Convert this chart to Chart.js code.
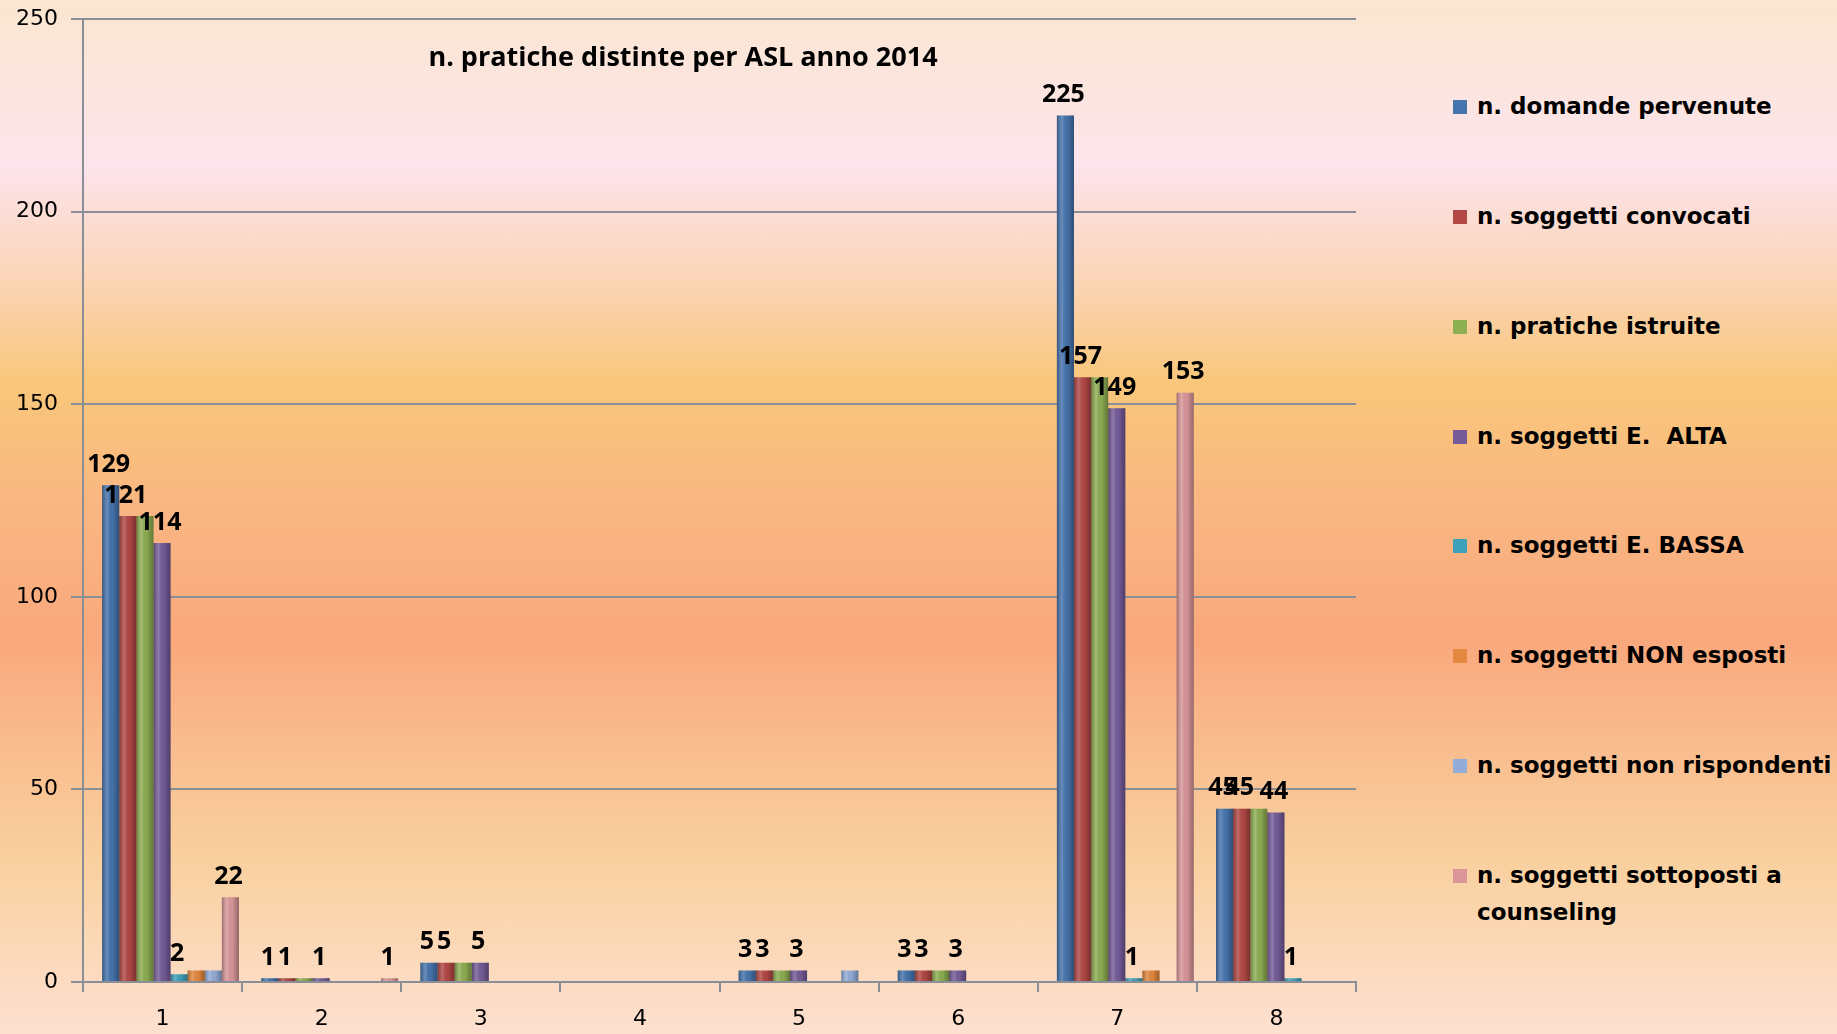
<!DOCTYPE html>
<html>
<head>
<meta charset="utf-8">
<script src="https://cdn.jsdelivr.net/npm/chart.js@4.4.1/dist/chart.umd.min.js"></script>
<style>
  html, body { margin: 0; padding: 0; }
  body {
    width: 1837px; height: 1034px; overflow: hidden; position: relative;
    background: linear-gradient(to bottom, #fbe6d0 0%, #fde4ec 16%, #fbd6bc 26%, #f9c77a 37%, #f9b582 50%, #f9a87c 62%, #f9bc8e 72%, #f9d09e 83%, #fde0d0 100%);
  }
  #wrap { position: absolute; left: 0; top: -7px; width: 1380px; height: 1039px; }
  #title {
    position: absolute; left: 333px; width: 700px; top: 37px; text-align: center;
    font: bold 27px "Open Sans", sans-serif; color: #000;
  }
  #legend { position: absolute; left: 1453px; top: 0; }
  .item { position: absolute; left: 0; white-space: pre; font: bold 23px "DejaVu Sans", sans-serif; color: #000; line-height: 37px; }
  .item span.box { position: absolute; left: 0; top: 12px; width: 14px; height: 14px; }
  .item span.txt { display: block; margin-left: 24px; }
</style>
</head>
<body>
<div id="wrap"><canvas id="chart"></canvas></div>
<div id="title">n. pratiche distinte per ASL anno 2014</div>
<div id="legend"></div>
<script>
// ASL 1..8
const categories = ['1', '2', '3', '4', '5', '6', '7', '8'];

const domandePervenute = [129, 1, 5, null, 3, 3, 225, 45];
const soggettiConvocati = [121, 1, 5, null, 3, 3, 157, 45];
const praticheIstruite = [121, 1, 5, null, 3, 3, 157, 45];
const soggettiAlta = [114, 1, 5, null, 3, 3, 149, 44];
const soggettiBassa = [2, null, null, null, null, null, 1, 1];
const soggettiNonEsposti = [3, null, null, null, null, null, 3, null];
const soggettiNonRispondenti = [3, null, null, null, 3, null, 0, null];
const soggettiCounseling = [22, 1, null, null, null, null, 153, null];

const seriesNames = [
    'n. domande pervenute',
    'n. soggetti convocati',
    'n. pratiche istruite',
    'n. soggetti E.  ALTA',
    'n. soggetti E. BASSA',
    'n. soggetti NON esposti',
    'n. soggetti non rispondenti',
    ['n. soggetti sottoposti a', 'counseling']
];
const seriesData = [domandePervenute, soggettiConvocati, praticheIstruite, soggettiAlta,
    soggettiBassa, soggettiNonEsposti, soggettiNonRispondenti, soggettiCounseling];
const seriesColors = ['#4674ae', '#b24845', '#8eae52', '#755c98', '#3fa0ba', '#e3883e', '#94acd8', '#d9979a'];
// etichette visibili solo su alcune serie (come nel grafico originale)
const labelledSeries = [0, 1, 3, 4, 7];

const gridColor = '#8a8e96';

// barre spostate un po' a destra (effetto 3D), ombreggiatura "cilindro" ed etichette
const barsPlugin = {
    id: 'bars3d',
    beforeDatasetsDraw(chart) {
        chart.ctx.save();
        chart.ctx.translate(8, 0);
    },
    afterDatasetsDraw(chart) {
        const ctx = chart.ctx;
        chart.data.datasets.forEach((ds, di) => {
            const meta = chart.getDatasetMeta(di);
            meta.data.forEach((bar, i) => {
                if (ds.data[i] === null || ds.data[i] === undefined) return;
                const w = bar.width, x0 = bar.x - w / 2;
                const top = Math.min(bar.y, bar.base), h = Math.abs(bar.base - bar.y);
                const g = ctx.createLinearGradient(x0, 0, x0 + w, 0);
                g.addColorStop(0, 'rgba(0,0,0,0.28)');
                g.addColorStop(0.3, 'rgba(255,255,255,0.18)');
                g.addColorStop(0.6, 'rgba(0,0,0,0.02)');
                g.addColorStop(1, 'rgba(0,0,0,0.32)');
                ctx.fillStyle = g;
                ctx.fillRect(x0, top, w, h);
            });
        });
        ctx.font = 'bold 25px "Open Sans", sans-serif';
        ctx.fillStyle = '#000';
        ctx.textAlign = 'center';
        ctx.textBaseline = 'bottom';
        labelledSeries.forEach(di => {
            const meta = chart.getDatasetMeta(di);
            meta.data.forEach((bar, i) => {
                const v = chart.data.datasets[di].data[i];
                if (v === null || v === undefined) return;
                ctx.fillText(String(v), bar.x - 2, bar.y - 8);
            });
        });
        ctx.restore();
    }
};

const chart = new Chart(document.getElementById('chart'), {
    type: 'bar',
    data: {
        labels: categories,
        datasets: seriesData.map((d, i) => ({
            label: seriesNames[i],
            data: d,
            backgroundColor: seriesColors[i],
            borderWidth: 0,
            barPercentage: 1.0,
            categoryPercentage: 0.86
        }))
    },
    options: {
        responsive: true,
        maintainAspectRatio: false,
        animation: false,
        layout: { padding: { top: 9, right: 24, left: 0, bottom: 0 } },
        plugins: { legend: { display: false }, tooltip: { enabled: false } },
        scales: {
            x: {
                afterFit(scale) { scale.height = 50; },
                grid: { drawOnChartArea: false, drawTicks: true, tickLength: 10, color: gridColor, lineWidth: 2 },
                border: { color: gridColor, width: 2 },
                ticks: { color: '#000', font: { family: 'DejaVu Sans', size: 22 }, padding: 14 }
            },
            y: {
                min: 0, max: 250,
                afterFit(scale) { scale.width = 83; },
                grid: { color: gridColor, lineWidth: 2, tickLength: 12 },
                border: { color: gridColor, width: 2 },
                ticks: { stepSize: 50, color: '#000', font: { family: 'DejaVu Sans', size: 22 }, padding: 13 }
            }
        }
    },
    plugins: [barsPlugin]
});

// legenda costruita dai dataset
const legendEl = document.getElementById('legend');
const legendTops = [88, 198, 308, 418, 527, 637, 747, 857];
chart.data.datasets.forEach((ds, i) => {
    const item = document.createElement('div');
    item.className = 'item';
    item.style.top = legendTops[i] + 'px';
    const box = document.createElement('span');
    box.className = 'box';
    box.style.background = ds.backgroundColor;
    const txt = document.createElement('span');
    txt.className = 'txt';
    txt.textContent = [].concat(ds.label).join('\n');
    item.appendChild(box);
    item.appendChild(txt);
    legendEl.appendChild(item);
});
</script>
</body>
</html>
